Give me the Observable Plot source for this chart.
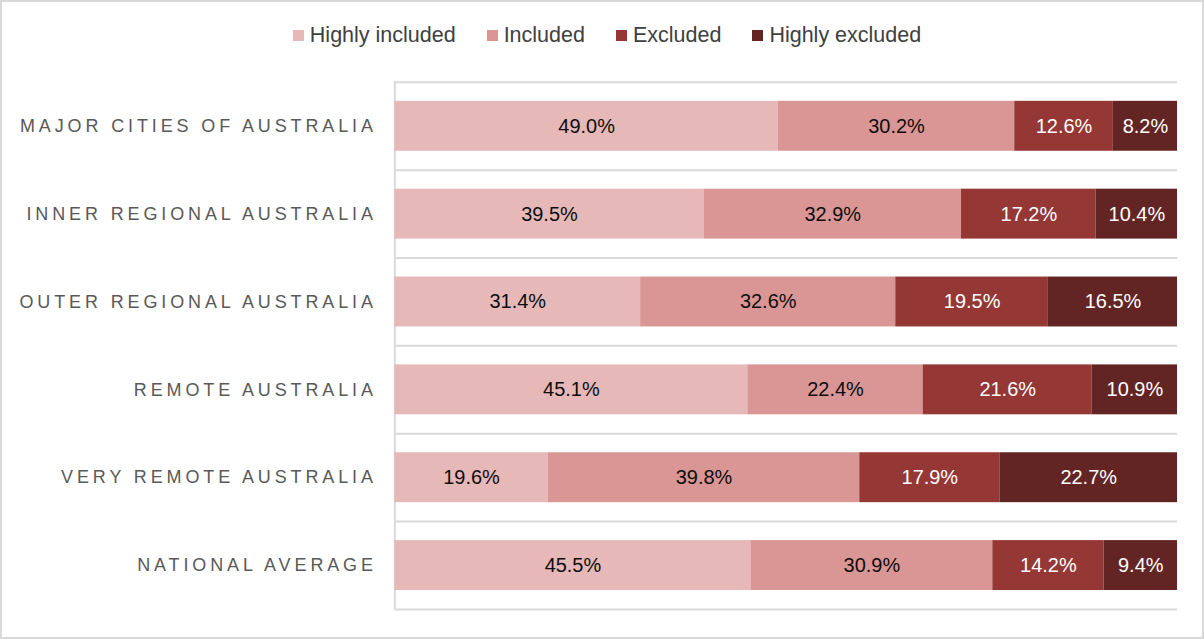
<!DOCTYPE html>
<html>
<head>
<meta charset="utf-8">
<script src="https://cdn.jsdelivr.net/npm/d3@7"></script>
<script src="https://cdn.jsdelivr.net/npm/@observablehq/plot@0.6"></script>
<style>
  html, body { margin: 0; padding: 0; background: #fff; }
  #wrap { position: relative; width: 1204px; height: 639px; box-sizing: border-box; border: 2px solid #d9d9d9; overflow: hidden; font-family: "Liberation Sans", Arial, sans-serif; }
  #legend { position: absolute; top: 21px; left: 0; width: 1204px; display: flex; justify-content: center; gap: 31px; font-size: 21.5px; color: #404040; margin-left: 3px; }
  #legend .item { display: flex; align-items: center; gap: 6px; }
  #legend .sw { width: 11px; height: 11px; display: inline-block; }
  #chart { position: absolute; left: -2px; top: -2px; }
  #chart svg [aria-label="y-axis tick label"] text { letter-spacing: 3.9px; }
</style>
</head>
<body>
<div id="wrap">
  <div id="legend"></div>
  <div id="chart"></div>
</div>
<script>
const regions = ["MAJOR CITIES OF AUSTRALIA", "INNER REGIONAL AUSTRALIA", "OUTER REGIONAL AUSTRALIA", "REMOTE AUSTRALIA", "VERY REMOTE AUSTRALIA", "NATIONAL AVERAGE"];
const seriesNames = ["Highly included", "Included", "Excluded", "Highly excluded"];
const seriesColors = ["#e6b8b7", "#da9694", "#953735", "#632523"];
const highlyIncluded = [49.0, 39.5, 31.4, 45.1, 19.6, 45.5];
const included = [30.2, 32.9, 32.6, 22.4, 39.8, 30.9];
const excluded = [12.6, 17.2, 19.5, 21.6, 17.9, 14.2];
const highlyExcluded = [8.2, 10.4, 16.5, 10.9, 22.7, 9.4];
const labelColors = ["#0d0d0d", "#0d0d0d", "#ffffff", "#ffffff"];

const seriesValues = [highlyIncluded, included, excluded, highlyExcluded];
const data = [];
seriesNames.forEach((s, si) => {
  regions.forEach((r, ri) => {
    data.push({region: r, series: s, si, value: seriesValues[si][ri]});
  });
});

// legend
const legend = document.getElementById("legend");
seriesNames.forEach((s, i) => {
  const item = document.createElement("div");
  item.className = "item";
  const sw = document.createElement("span");
  sw.className = "sw";
  sw.style.background = seriesColors[i];
  const t = document.createElement("span");
  t.textContent = s;
  item.appendChild(sw); item.appendChild(t);
  legend.appendChild(item);
});

const W = 1204, H = 639;
const mTop = 81, mBottom = 29;
const step = (H - mTop - mBottom) / regions.length;

const stackOpts = {x: "value", y: "region", z: "series", order: seriesNames};
const label = (dark) => (d) => ((labelColors[d.si] !== "#ffffff") === dark ? d.value.toFixed(1) + "%" : null);

const plot = Plot.plot({
  width: W,
  height: H,
  marginLeft: 395,
  marginRight: 25,
  marginTop: mTop,
  marginBottom: mBottom,
  style: {fontFamily: "'Liberation Sans', Arial, sans-serif", background: "transparent"},
  x: {domain: [0, 100], axis: null},
  y: {domain: regions, padding: 0, label: null},
  color: {domain: seriesNames, range: seriesColors},
  marks: [
    Plot.ruleY(regions, {y: d => d, dy: -step / 2, x1: 0, x2: 100, stroke: "#d9d9d9", strokeWidth: 2}),
    Plot.ruleY(regions.slice(-1), {y: d => d, dy: step / 2, x1: 0, x2: 100, stroke: "#d9d9d9", strokeWidth: 2}),
    Plot.ruleX([0], {stroke: "#d9d9d9", strokeWidth: 2}),
    Plot.barX(data, Plot.stackX({...stackOpts, fill: "series", insetTop: 19, insetBottom: 19})),
    Plot.text(data, Plot.stackX({...stackOpts, text: label(true), fill: labelColors[0], fontSize: 20})),
    Plot.text(data, Plot.stackX({...stackOpts, text: label(false), fill: labelColors[2], fontSize: 20})),
    Plot.axisY({tickSize: 0, tickPadding: 18, fontSize: 18, fill: "#595959", label: null})
  ]
});
document.getElementById("chart").appendChild(plot);
</script>
</body>
</html>
